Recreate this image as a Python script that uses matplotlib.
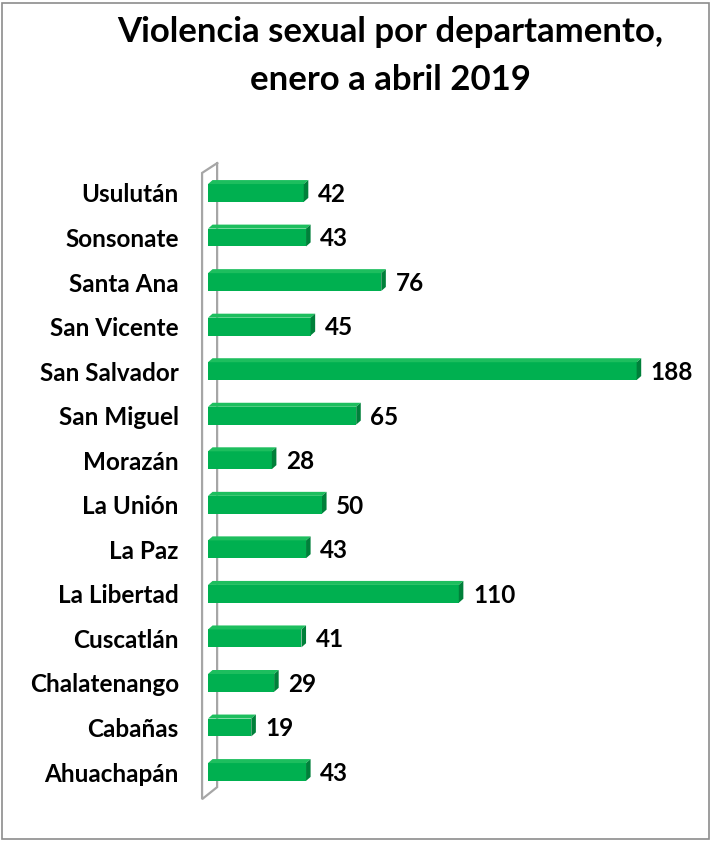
import matplotlib
matplotlib.use("Agg")
import matplotlib.pyplot as plt
from matplotlib.patches import Polygon, Rectangle

categories = ["Ahuachapán", "Cabañas", "Chalatenango", "Cuscatlán", "La Libertad",
              "La Paz", "La Unión", "Morazán", "San Miguel", "San Salvador",
              "San Vicente", "Santa Ana", "Sonsonate", "Usulután"]
values = [43, 19, 29, 41, 110, 43, 50, 28, 65, 188, 45, 76, 43, 42]
title = "Violencia sexual por departamento,\nenero a abril 2019"

FONT = "Lato"
W, H = 712, 841
fig = plt.figure(figsize=(W / 100, H / 100), dpi=100)

# outer frame
fig.add_artist(Rectangle((2 / W, 2 / H), (W - 5) / W, (H - 5) / H, transform=fig.transFigure,
                         fill=False, edgecolor="#8c8c8c", linewidth=1.2))

px_per_unit_x = 2.28
row_px = 44.54
x0_px = 208
ax_w_px = 200 * px_per_unit_x
ylo, yhi = -0.6, 13.6
row0_from_bottom = 69
ax_bottom_px = row0_from_bottom + ylo * row_px
ax_h_px = (yhi - ylo) * row_px
ax = fig.add_axes([x0_px / W, ax_bottom_px / H, ax_w_px / W, ax_h_px / H])
ax.set_xlim(0, 200)
ax.set_ylim(ylo, yhi)
for s in ax.spines.values():
    s.set_visible(False)
ax.set_xticks([])

bh = 0.40
dx = 2.0
dy = 0.09
front = "#00B050"
top = "#1DBE5E"
side = "#00803A"

ypos = list(range(len(categories)))
ax.barh(ypos, values, height=bh, color=front, edgecolor="none", zorder=3)
for y, v in zip(ypos, values):
    t = y + bh / 2
    b = y - bh / 2
    ax.add_patch(Polygon([(0, t), (v, t), (v + dx, t + dy), (dx, t + dy)],
                         closed=True, facecolor=top, edgecolor="none", zorder=3))
    ax.add_patch(Polygon([(v, b), (v, t), (v + dx, t + dy), (v + dx, b + dy)],
                         closed=True, facecolor=side, edgecolor="none", zorder=3))
    ax.text(v + 6.2, y - 0.03, str(v), ha="left", va="center", fontsize=17.5,
            fontweight="bold", family=FONT, color="black")

# side wall
wall_c = "#a6a6a6"
xb, xf = 4.0, -2.6
yt_b, yt_f = 13.67, 13.45
yb_b, yb_f = -0.34, -0.61
ax.plot([xb, xf, xf, xb, xb], [yt_b, yt_f, yb_f, yb_b, yt_b], color=wall_c,
        linewidth=1.6, clip_on=False, zorder=2, solid_joinstyle="miter")

ax.set_yticks(ypos)
ax.set_yticklabels(categories, fontsize=17.5, fontweight="bold", family=FONT)
ax.tick_params(axis="y", length=0, pad=21)

fig.text(390 / W, 1 - 56 / H, title, ha="center", va="center", fontsize=25,
         fontweight="bold", family=FONT, linespacing=1.6)

fig.savefig("out.png", dpi=100)
